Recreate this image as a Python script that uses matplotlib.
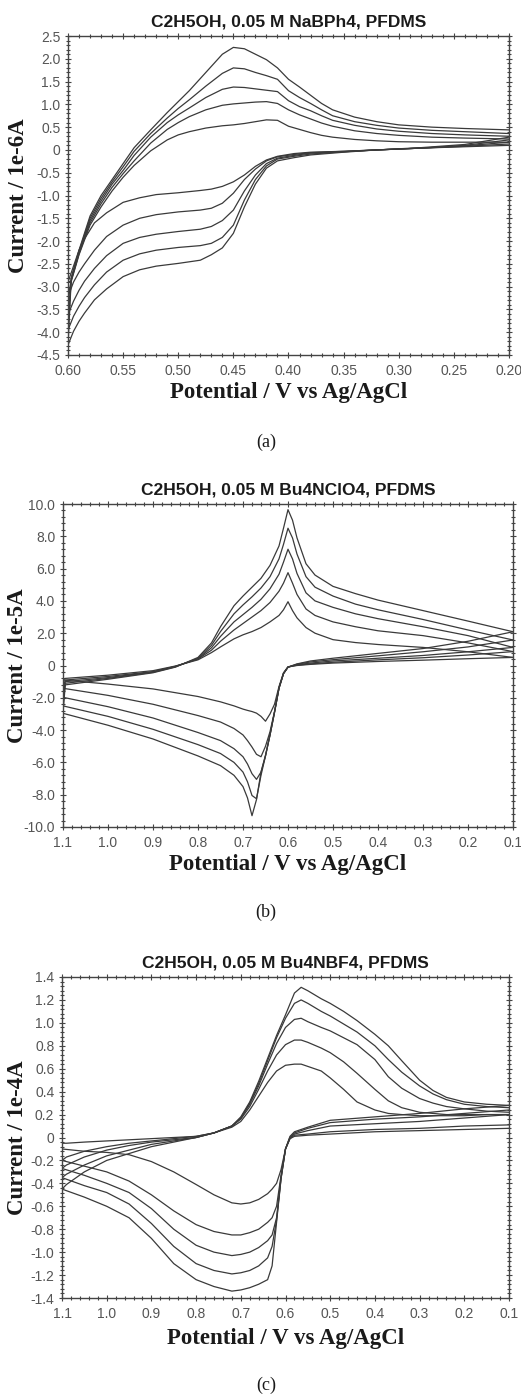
import matplotlib
matplotlib.use("Agg")
import matplotlib.pyplot as plt
from matplotlib.ticker import MultipleLocator, AutoMinorLocator, FuncFormatter

# ---- panel (a): NaBPh4, current in 1e-6 A ----
a_up_x = [0.600, 0.597, 0.590, 0.580, 0.570, 0.560, 0.550, 0.540, 0.525, 0.510,
          0.500, 0.490, 0.475, 0.460, 0.450, 0.440, 0.430, 0.420, 0.410, 0.400,
          0.390, 0.380, 0.370, 0.360, 0.340, 0.320, 0.300, 0.270, 0.240, 0.200]
a_up = [
    [-2.90, -2.88, -2.30, -1.65, -1.25, -0.90, -0.60, -0.34, -0.02, 0.22,
     0.33, 0.40, 0.48, 0.53, 0.55, 0.58, 0.62, 0.66, 0.65, 0.52,
     0.45, 0.38, 0.32, 0.28, 0.23, 0.20, 0.18, 0.17, 0.17, 0.17],
    [-3.22, -2.86, -2.28, -1.60, -1.18, -0.82, -0.52, -0.24, 0.15, 0.45,
     0.60, 0.73, 0.88, 0.98, 1.01, 1.03, 1.05, 1.06, 1.02, 0.88,
     0.77, 0.68, 0.59, 0.52, 0.42, 0.36, 0.32, 0.28, 0.26, 0.24],
    [-3.62, -2.84, -2.25, -1.55, -1.12, -0.75, -0.45, -0.12, 0.28, 0.60,
     0.77, 0.92, 1.15, 1.33, 1.38, 1.37, 1.34, 1.31, 1.28, 1.08,
     0.95, 0.86, 0.75, 0.65, 0.54, 0.46, 0.41, 0.36, 0.33, 0.30],
    [-3.95, -2.82, -2.22, -1.50, -1.06, -0.70, -0.37, -0.03, 0.36, 0.70,
     0.91, 1.10, 1.40, 1.68, 1.80, 1.78, 1.70, 1.63, 1.55, 1.30,
     1.15, 1.02, 0.88, 0.75, 0.62, 0.54, 0.48, 0.43, 0.40, 0.36],
    [-4.28, -2.80, -2.20, -1.45, -1.00, -0.65, -0.30, 0.05, 0.44, 0.82,
     1.06, 1.30, 1.70, 2.10, 2.25, 2.22, 2.10, 1.98, 1.80, 1.55,
     1.38, 1.20, 1.02, 0.88, 0.72, 0.62, 0.55, 0.50, 0.47, 0.44],
]
a_dn_x = [0.200, 0.240, 0.280, 0.320, 0.350, 0.380, 0.395, 0.410, 0.420, 0.430,
          0.440, 0.450, 0.460, 0.470, 0.480, 0.500, 0.520, 0.535, 0.550, 0.565,
          0.576, 0.585, 0.590, 0.595, 0.600]
a_dn = [
    [0.10, 0.07, 0.04, 0.00, -0.03, -0.05, -0.08, -0.14, -0.22, -0.36,
     -0.55, -0.70, -0.80, -0.86, -0.89, -0.94, -0.98, -1.05, -1.15, -1.38,
     -1.60, -1.95, -2.20, -2.55, -2.90],
    [0.13, 0.08, 0.04, 0.00, -0.03, -0.06, -0.10, -0.15, -0.24, -0.42,
     -0.65, -0.95, -1.17, -1.28, -1.32, -1.36, -1.42, -1.50, -1.65, -1.90,
     -2.20, -2.50, -2.68, -2.90, -3.22],
    [0.17, 0.09, 0.04, 0.00, -0.04, -0.07, -0.12, -0.18, -0.30, -0.55,
     -0.90, -1.32, -1.55, -1.68, -1.74, -1.79, -1.85, -1.92, -2.05, -2.32,
     -2.60, -2.88, -3.08, -3.32, -3.62],
    [0.22, 0.10, 0.04, 0.00, -0.04, -0.09, -0.14, -0.20, -0.35, -0.65,
     -1.10, -1.65, -1.92, -2.05, -2.10, -2.14, -2.20, -2.28, -2.42, -2.68,
     -2.96, -3.24, -3.43, -3.65, -3.95],
    [0.28, 0.12, 0.05, 0.00, -0.05, -0.11, -0.17, -0.24, -0.40, -0.75,
     -1.25, -1.83, -2.15, -2.30, -2.42, -2.49, -2.55, -2.63, -2.78, -3.05,
     -3.29, -3.58, -3.76, -3.98, -4.28],
]

# ---- panel (b): Bu4NClO4, current in 1e-5 A ----
b_up_x = [1.10, 1.095, 1.00, 0.90, 0.85, 0.80, 0.77, 0.75, 0.72, 0.70,
          0.68, 0.66, 0.64, 0.62, 0.61, 0.60, 0.59, 0.58, 0.56, 0.54,
          0.50, 0.45, 0.40, 0.30, 0.20, 0.10]
b_up = [
    [-0.90, -0.80, -0.60, -0.32, -0.03, 0.35, 0.80, 1.15, 1.65, 1.90,
     2.10, 2.35, 2.70, 3.10, 3.45, 3.95, 3.40, 2.95, 2.35, 2.00,
     1.60, 1.42, 1.30, 1.12, 0.85, 0.50],
    [-1.41, -0.90, -0.68, -0.38, -0.05, 0.40, 0.95, 1.50, 2.20, 2.60,
     3.00, 3.40, 3.90, 4.60, 5.10, 5.75, 5.10, 4.40, 3.50, 3.10,
     2.70, 2.40, 2.15, 1.85, 1.40, 0.86],
    [-1.97, -1.00, -0.75, -0.40, -0.06, 0.42, 1.10, 1.80, 2.70, 3.15,
     3.60, 4.10, 4.75, 5.65, 6.40, 7.20, 6.60, 5.70, 4.50, 4.00,
     3.60, 3.20, 2.90, 2.40, 1.85, 1.12],
    [-2.50, -1.10, -0.80, -0.42, -0.08, 0.45, 1.25, 2.10, 3.20, 3.75,
     4.25, 4.80, 5.50, 6.60, 7.50, 8.50, 7.90, 6.90, 5.50, 4.85,
     4.30, 3.80, 3.45, 2.85, 2.20, 1.58],
    [-2.96, -1.20, -0.85, -0.45, -0.10, 0.50, 1.40, 2.40, 3.70, 4.30,
     4.85, 5.40, 6.20, 7.40, 8.50, 9.65, 9.00, 7.90, 6.30, 5.60,
     4.90, 4.45, 4.05, 3.40, 2.75, 2.09],
]
b_dn_x = [1.10, 1.00, 0.90, 0.80, 0.75, 0.72, 0.70, 0.69, 0.68, 0.67,
          0.66, 0.65, 0.64, 0.63, 0.62, 0.61, 0.60, 0.58, 0.55, 0.50,
          0.40, 0.30, 0.20, 0.10]
b_dn = [
    [-0.90, -1.15, -1.45, -1.92, -2.25, -2.50, -2.70, -2.78, -2.85, -2.95,
     -3.15, -3.45, -3.00, -2.40, -1.30, -0.45, -0.08, 0.00, 0.07, 0.15,
     0.25, 0.33, 0.42, 0.50],
    [-1.41, -1.85, -2.40, -3.10, -3.50, -3.90, -4.30, -4.65, -5.05, -5.50,
     -5.65, -5.00, -4.10, -2.85, -1.40, -0.50, -0.10, 0.02, 0.10, 0.20,
     0.35, 0.48, 0.65, 0.86],
    [-1.97, -2.55, -3.25, -4.15, -4.65, -5.15, -5.65, -6.10, -6.70, -7.05,
     -6.60, -5.55, -4.30, -2.90, -1.40, -0.50, -0.10, 0.05, 0.15, 0.28,
     0.45, 0.62, 0.85, 1.12],
    [-2.50, -3.15, -3.95, -4.90, -5.45, -6.00, -6.60, -7.20, -8.05, -8.25,
     -6.80, -5.60, -4.30, -2.90, -1.40, -0.50, -0.10, 0.08, 0.22, 0.36,
     0.60, 0.85, 1.15, 1.58],
    [-2.96, -3.70, -4.55, -5.60, -6.20, -6.80, -7.50, -8.20, -9.30, -8.30,
     -6.60, -5.60, -4.30, -2.90, -1.40, -0.50, -0.10, 0.10, 0.28, 0.45,
     0.75, 1.05, 1.50, 2.09],
]

# ---- panel (c): Bu4NBF4, current in 1e-4 A ----
c_up_x = [1.10, 1.09, 1.05, 1.00, 0.95, 0.90, 0.85, 0.80, 0.76, 0.72,
          0.70, 0.68, 0.66, 0.64, 0.62, 0.60, 0.58, 0.565, 0.55, 0.52,
          0.50, 0.47, 0.44, 0.40, 0.37, 0.34, 0.30, 0.27, 0.24, 0.20,
          0.15, 0.10]
c_up = [
    [-0.05, -0.05, -0.04, -0.03, -0.02, -0.01, 0.00, 0.01, 0.04, 0.09,
     0.14, 0.24, 0.36, 0.48, 0.58, 0.63, 0.64, 0.64, 0.62, 0.58,
     0.52, 0.42, 0.31, 0.24, 0.21, 0.20, 0.19, 0.19, 0.19, 0.19,
     0.20, 0.20],
    [-0.20, -0.17, -0.12, -0.08, -0.05, -0.03, -0.01, 0.01, 0.04, 0.10,
     0.16, 0.27, 0.42, 0.58, 0.72, 0.81, 0.85, 0.85, 0.83, 0.78,
     0.74, 0.66, 0.56, 0.42, 0.32, 0.26, 0.22, 0.21, 0.20, 0.20,
     0.20, 0.20],
    [-0.27, -0.24, -0.17, -0.11, -0.07, -0.04, -0.02, 0.00, 0.04, 0.10,
     0.17, 0.29, 0.45, 0.64, 0.82, 0.96, 1.03, 1.04, 1.01, 0.96,
     0.93, 0.87, 0.81, 0.68, 0.53, 0.43, 0.34, 0.30, 0.27, 0.25,
     0.23, 0.22],
    [-0.35, -0.32, -0.24, -0.16, -0.11, -0.06, -0.03, 0.00, 0.04, 0.10,
     0.17, 0.30, 0.47, 0.67, 0.87, 1.04, 1.17, 1.20, 1.17, 1.10,
     1.06, 0.99, 0.92, 0.80, 0.68, 0.57, 0.45, 0.38, 0.33, 0.29,
     0.27, 0.26],
    [-0.45, -0.41, -0.30, -0.20, -0.14, -0.08, -0.04, 0.00, 0.04, 0.10,
     0.18, 0.31, 0.49, 0.69, 0.89, 1.07, 1.26, 1.31, 1.28, 1.21,
     1.17, 1.10, 1.02, 0.90, 0.80, 0.67, 0.50, 0.41, 0.35, 0.31,
     0.29, 0.28],
]
c_dn_x = [1.10, 1.05, 1.00, 0.95, 0.90, 0.85, 0.80, 0.76, 0.72, 0.70,
          0.68, 0.66, 0.64, 0.63, 0.62, 0.61, 0.60, 0.59, 0.58, 0.55,
          0.50, 0.40, 0.30, 0.20, 0.10]
c_dn = [
    [-0.10, -0.12, -0.13, -0.15, -0.21, -0.30, -0.41, -0.50, -0.57, -0.58,
     -0.57, -0.54, -0.49, -0.45, -0.40, -0.28, -0.10, -0.01, 0.01, 0.02,
     0.03, 0.05, 0.06, 0.07, 0.08],
    [-0.20, -0.25, -0.30, -0.38, -0.50, -0.64, -0.76, -0.82, -0.85, -0.85,
     -0.83, -0.80, -0.74, -0.70, -0.60, -0.33, -0.10, -0.01, 0.02, 0.03,
     0.05, 0.07, 0.08, 0.10, 0.11],
    [-0.27, -0.33, -0.40, -0.48, -0.62, -0.80, -0.94, -1.00, -1.03, -1.02,
     -1.00, -0.96, -0.90, -0.85, -0.70, -0.35, -0.10, 0.00, 0.03, 0.06,
     0.10, 0.12, 0.14, 0.17, 0.20],
    [-0.35, -0.42, -0.48, -0.58, -0.75, -0.95, -1.10, -1.16, -1.19, -1.18,
     -1.16, -1.12, -1.05, -0.95, -0.72, -0.36, -0.10, 0.00, 0.04, 0.08,
     0.13, 0.16, 0.18, 0.21, 0.24],
    [-0.45, -0.52, -0.60, -0.70, -0.88, -1.10, -1.24, -1.30, -1.34, -1.33,
     -1.31, -1.28, -1.24, -1.12, -0.74, -0.36, -0.10, 0.01, 0.05, 0.09,
     0.15, 0.18, 0.21, 0.25, 0.28],
]

titles = ["C2H5OH, 0.05 M NaBPh4, PFDMS",
          "C2H5OH, 0.05 M Bu4NClO4, PFDMS",
          "C2H5OH, 0.05 M Bu4NBF4, PFDMS"]
ylabels = ["Current / 1e-6A", "Current / 1e-5A", "Current / 1e-4A"]
panel_tags = ["(a)", "(b)", "(c)"]

LINE = "#3a3a3a"
TICK = "#555555"
SANS = "Liberation Sans"
SERIF = "Liberation Serif"


def zero_fmt(decimals):
    def f(v, _):
        if abs(v) < 1e-9:
            return "0"
        return f"{v:.{decimals}f}"
    return FuncFormatter(f)


def draw(ax, up_x, ups, dn_x, dns, xlim, ylim, xstep, ystep, xdec, title, ylabel,
         xlab_y, ylab_x):
    for yu in ups:
        ax.plot(up_x, yu, color=LINE, lw=0.9)
    for yd in dns:
        ax.plot(dn_x, yd, color=LINE, lw=0.9)
    ax.set_xlim(*xlim)
    ax.set_ylim(*ylim)
    ax.xaxis.set_major_locator(MultipleLocator(xstep))
    ax.yaxis.set_major_locator(MultipleLocator(ystep))
    ax.xaxis.set_minor_locator(AutoMinorLocator(5))
    ax.yaxis.set_minor_locator(AutoMinorLocator(5))
    ax.xaxis.set_major_formatter(FuncFormatter(lambda v, _: f"{v:.{xdec}f}"))
    ax.yaxis.set_major_formatter(zero_fmt(1))
    ax.tick_params(which="both", direction="inout", top=True, right=True,
                   color="#444444", width=0.8, labelcolor=TICK)
    ax.tick_params(which="major", length=5)
    ax.tick_params(which="minor", length=3)
    ax.tick_params(axis="x", pad=4, labelsize=10)
    ax.tick_params(axis="y", pad=3, labelsize=10)
    for lab in ax.get_xticklabels() + ax.get_yticklabels():
        lab.set_fontfamily(SANS)
    for s in ax.spines.values():
        s.set_color("#444444")
        s.set_linewidth(1.0)
    ax.set_title(title, fontfamily=SANS, fontweight="bold", fontsize=12.5,
                 pad=7, color="#1a1a1a")
    ax.set_xlabel("Potential / V vs Ag/AgCl", fontfamily=SERIF,
                  fontweight="bold", fontsize=16.5, color="#1a1a1a")
    ax.set_ylabel(ylabel, fontfamily=SERIF, fontweight="bold",
                  fontsize=16.5, color="#1a1a1a")
    ax.xaxis.set_label_coords(0.5, xlab_y)
    ax.yaxis.set_label_coords(ylab_x, 0.5)


W, H = 521, 1397
fig = plt.figure(figsize=(W / 100, H / 100), dpi=100)

# axes boxes in pixels: left, top, right, bottom
boxes = [(68, 36, 509, 355), (63, 504, 513, 827), (62, 977, 509, 1298)]
axes = []
for (l, t, r, b) in boxes:
    axes.append(fig.add_axes([l / W, 1 - b / H, (r - l) / W, (b - t) / H]))

draw(axes[0], a_up_x, a_up, a_dn_x, a_dn, (0.60, 0.20), (-4.5, 2.5), 0.05, 0.5, 2,
     titles[0], ylabels[0], -0.085, -0.088)
draw(axes[1], b_up_x, b_up, b_dn_x, b_dn, (1.1, 0.1), (-10.0, 10.0), 0.1, 2.0, 1,
     titles[1], ylabels[1], -0.085, -0.078)
draw(axes[2], c_up_x, c_up, c_dn_x, c_dn, (1.1, 0.1), (-1.4, 1.4), 0.1, 0.2, 1,
     titles[2], ylabels[2], -0.095, -0.076)

tag_y = [442, 912, 1385]
for tag, py in zip(panel_tags, tag_y):
    fig.text(266 / W, 1 - py / H, tag, ha="center", va="center",
             fontfamily=SERIF, fontsize=13, color="#1a1a1a")

fig.savefig("out.png", dpi=100, facecolor="white")
